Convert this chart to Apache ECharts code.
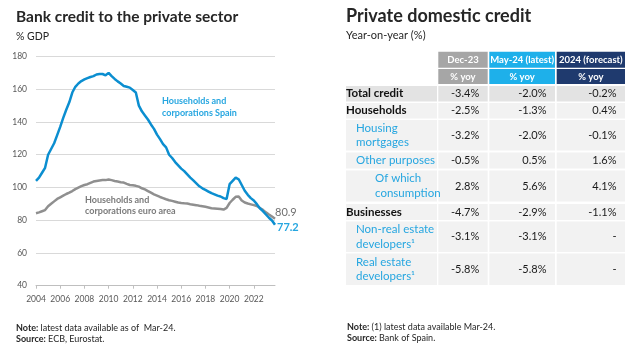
<!DOCTYPE html>
<html>
<head>
<meta charset="utf-8">
<script src="https://cdn.jsdelivr.net/npm/echarts@6/dist/echarts.min.js"></script>
<style>
html,body{margin:0;padding:0;background:#fff;}
#chart{width:640px;height:348px;}
</style>
</head>
<body>
<div id="chart"></div>
<script>
// ---------- DATA ----------
const years = [2004,2005,2006,2007,2008,2009,2010,2011,2012,2013,2014,2015,2016,2017,2018,2019,2020,2021,2022,2023];
const quarters = [];
years.forEach(y => { for (let q = 1; q <= 4; q++) quarters.push(y + 'Q' + q); });

const spain = [
  104, 106, 109, 112,
  120, 123.5, 127, 132,
  137, 142.5, 147.5, 152,
  158, 161.5, 163.5, 165,
  166, 166.8, 167.5, 168,
  169, 169.3, 169.3, 168.5,
  170, 168, 166.3, 164.8,
  163.5, 162, 161.5, 161,
  159.5, 158, 150, 146.5,
  144, 141.5, 138.5, 135.8,
  132.3, 129.5, 126.5, 124.5,
  120, 118, 115.5, 113.5,
  111.5, 110, 108, 106,
  104.3, 102.5, 100.7, 99.5,
  98.5, 97.5, 96.5, 95.8,
  95, 94.5, 93.5, 93,
  102, 104, 106, 105,
  101.5, 98, 95.5, 93.5,
  92, 89.8, 87.3, 85.5,
  83.5, 81.5, 79.8, 77.2
];
const euroArea = [
  84.3, 84.8, 85.5, 86.2,
  88.5, 90, 91.5, 93,
  94, 95, 96, 96.8,
  97.8, 99, 99.9, 100.8,
  101.5, 102, 102.8, 103.6,
  104, 104.3, 104.5, 104.5,
  104.9, 104.5, 104, 103.6,
  103.2, 103, 102.2, 101.5,
  101.3, 101, 100.5, 99.5,
  98.8, 97.8, 96.8, 95.8,
  95, 94.2, 93.5, 92.8,
  92.2, 91.8, 91.3, 90.8,
  90.5, 90.3, 90.2, 89.8,
  89.5, 89.2, 88.8, 88.5,
  88.2, 87.8, 87.3, 87.2,
  87, 86.8, 86.5, 87.5,
  90.5, 92.5, 94.3, 94.5,
  92, 90.8, 90.2, 89.7,
  89.2, 88.7, 87.5, 86.3,
  84.8, 83.5, 82.3, 80.9
];
const yTicks = [40, 60, 80, 100, 120, 140, 160, 180];

// table data
const colHeaders = ['Dec-23', 'May-24 (latest)', '2024 (forecast)'];
const subHeader = '% yoy';
const rowLabels = ['Total credit', 'Households', 'Housing\nmortgages', 'Other purposes', 'Of which\nconsumption', 'Businesses', 'Non-real estate\ndevelopers¹', 'Real estate\ndevelopers¹'];
const dec23  = ['-3.4%', '-2.5%', '-3.2%', '-0.5%', '2.8%', '-4.7%', '-3.1%', '-5.8%'];
const may24  = ['-2.0%', '-1.3%', '-2.0%', '0.5%', '5.6%', '-2.9%', '-3.1%', '-5.8%'];
const fc2024 = ['-0.2%', '0.4%', '-0.1%', '1.6%', '4.1%', '-1.1%', '-', '-'];

// ---------- STYLE / LAYOUT ----------
const FONT = 'Lato, "Open Sans", sans-serif';
const BLUE_LINE = '#0b8ed0';
const BLUE_TEXT = '#26a6e0';
const GREY_LINE = '#8f8f8f';
const GREY_TEXT = '#7a7a7a';
const DARK = '#262626';

const rowLevel = [0, 0, 1, 1, 2, 0, 1, 1];
const rowTop = [86, 103, 120, 152.5, 170.5, 204, 221.5, 253.5];
const rowH   = [15.5, 15.5, 30.5, 16, 31, 16, 30.5, 31.5];
const colX = [346, 438.3, 489.3, 556.7];
const colW = [91, 49.4, 65.7, 68.3];
const headerColors = ['#a6a6a6', '#1eb0ea', '#1f3a6e'];

const g = [];
function txt(x, y, text, opts) {
  g.push({type: 'text', x: x, y: y, silent: true, style: Object.assign({
    text: text, font: '11px ' + FONT, fill: DARK, textAlign: 'left', textVerticalAlign: 'middle'
  }, opts || {})});
}
function rect(x, y, w, h, fill) {
  g.push({type: 'rect', silent: true, shape: {x: x, y: y, width: w, height: h}, style: {fill: fill}});
}

// left titles
txt(16, 17, 'Bank credit to the private sector', {font: 'bold 15.5px ' + FONT, fill: DARK});
txt(16, 37, '% GDP', {font: '10.5px ' + FONT, fill: DARK});
// right titles
txt(346, 16, 'Private domestic credit', {font: 'bold 18px ' + FONT, fill: DARK});
txt(346, 35, 'Year-on-year (%)', {font: '11px ' + FONT, fill: DARK});

// series annotations
txt(162, 101.5, 'Households and', {font: 'bold 9px ' + FONT, fill: BLUE_TEXT});
txt(162, 113.5, 'corporations Spain', {font: 'bold 9px ' + FONT, fill: BLUE_TEXT});
txt(85, 200, 'Households and', {font: 'bold 9px ' + FONT, fill: GREY_TEXT});
txt(85, 211.5, 'corporations euro area', {font: 'bold 9px ' + FONT, fill: GREY_TEXT});

// notes
const noteRich = {b: {fontWeight: 'bold', fontSize: 9, fontFamily: FONT, fill: DARK}};
txt(16, 328.5, '{b|Note:} latest data available as of  Mar-24.', {font: '9px ' + FONT, rich: noteRich});
txt(16, 339.5, '{b|Source:} ECB, Eurostat.', {font: '9px ' + FONT, rich: noteRich});
txt(347, 327, '{b|Note:} (1) latest data available Mar-24.', {font: '9px ' + FONT, rich: noteRich});
txt(347, 338, '{b|Source:} Bank of Spain.', {font: '9px ' + FONT, rich: noteRich});

// table header
const hdrTop = [51.7, 69], hdrH = [16, 15];
for (let c = 0; c < 3; c++) {
  for (let r = 0; r < 2; r++) {
    rect(colX[c + 1], hdrTop[r], colW[c + 1], hdrH[r], headerColors[c]);
    txt(colX[c + 1] + colW[c + 1] / 2, hdrTop[r] + hdrH[r] / 2, r === 0 ? colHeaders[c] : subHeader,
        {font: 'bold 9.5px ' + FONT, fill: '#ffffff', textAlign: 'center'});
  }
}
// table body
const valueCols = [dec23, may24, fc2024];
rowLabels.forEach((lab, i) => {
  const bg = i === 0 ? '#e3e3e3' : '#f2f2f2';
  for (let c = 0; c < 4; c++) rect(colX[c], rowTop[i], colW[c], rowH[i], bg);
  const cy = rowTop[i] + rowH[i] / 2;
  const lvl = rowLevel[i];
  const lx = colX[0] + (lvl === 0 ? 0 : lvl === 1 ? 10 : 29);
  txt(lx, cy, lab, {
    font: (lvl === 0 ? 'bold ' : '') + '11.5px ' + FONT,
    fill: lvl === 0 ? '#111111' : BLUE_TEXT,
    lineHeight: 14.5
  });
  valueCols.forEach((col, c) => {
    txt(colX[c + 1] + colW[c + 1] - 8.5, cy, col[i], {font: '11px ' + FONT, fill: '#1a1a1a', textAlign: 'right'});
  });
});

// ---------- CHART ----------
const chart = echarts.init(document.getElementById('chart'), null, {renderer: 'canvas'});
chart.setOption({
  animation: false,
  textStyle: {fontFamily: FONT},
  grid: {left: 36, right: 365, top: 56.5, bottom: 62.3, containLabel: false},
  xAxis: {
    type: 'category',
    data: quarters,
    boundaryGap: false,
    axisLine: {lineStyle: {color: '#bfbfbf', width: 1}},
    axisTick: {show: true, interval: 7, length: 3, lineStyle: {color: '#bfbfbf'}},
    axisLabel: {interval: 7, margin: 9, fontSize: 8.5, color: '#595959', fontFamily: FONT,
      formatter: v => v.slice(0, 4)},
    splitLine: {show: false}
  },
  yAxis: {
    type: 'value',
    min: yTicks[0], max: yTicks[yTicks.length - 1], interval: 20,
    axisLine: {show: false},
    axisTick: {show: false},
    axisLabel: {fontSize: 8.5, color: '#595959', margin: 9, fontFamily: FONT},
    splitLine: {lineStyle: {color: '#d9d9d9', width: 1}}
  },
  series: [
    {
      name: 'Households and corporations euro area',
      type: 'line', data: euroArea, showSymbol: false, z: 2,
      lineStyle: {color: GREY_LINE, width: 2.5},
      itemStyle: {color: GREY_LINE},
      endLabel: {show: true, formatter: p => p.value.toFixed(1), distance: 0, offset: [0, -6],
        fontSize: 11, color: '#6f6f6f', fontFamily: FONT}
    },
    {
      name: 'Households and corporations Spain',
      type: 'line', data: spain, showSymbol: false, z: 3,
      lineStyle: {color: BLUE_LINE, width: 2.5},
      itemStyle: {color: BLUE_LINE},
      endLabel: {show: true, formatter: p => p.value.toFixed(1), distance: 2, offset: [0, 3],
        fontSize: 11, fontWeight: 'bold', color: BLUE_TEXT, fontFamily: FONT}
    }
  ],
  graphic: g
});
</script>
</body>
</html>
